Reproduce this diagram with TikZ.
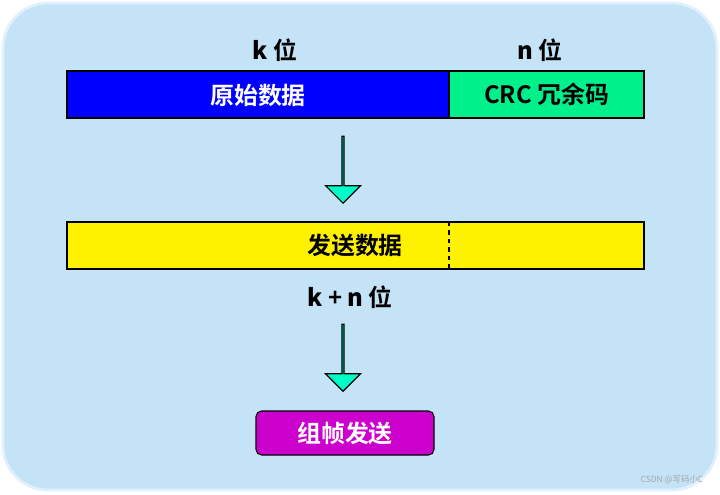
\documentclass[tikz,border=0pt]{standalone}
\usepackage{fontspec}
\setmainfont{Liberation Sans}
\newfontfamily\cjk{Noto Sans CJK SC}[BoldFont={Noto Sans CJK SC Bold}]
\usetikzlibrary{positioning,shapes.arrows}
\definecolor{bgblue}{RGB}{197,227,247}
\definecolor{bgedge}{RGB}{225,240,252}
\definecolor{crcgreen}{RGB}{0,240,140}
\definecolor{arrowfill}{RGB}{0,255,200}
\definecolor{framepurple}{RGB}{204,0,204}
\tikzset{
bar/.style={draw=black, thick, minimum height=47*0.025cm, inner sep=0pt, outer sep=0pt},
lbl/.style={font=\cjk\bfseries\fontsize{17}{20}\selectfont},
downarrow/.style={single arrow, draw=black, thick, fill=arrowfill, shape border rotate=270,
  minimum width=35*0.025cm, single arrow head extend=9*0.025cm, minimum height=67*0.025cm, inner sep=0pt}
}
\begin{document}
\begin{tikzpicture}[x=0.025cm,y=-0.025cm]
\useasboundingbox (0,0) rectangle (720,494);
\fill[bgblue, draw=bgedge, line width=2pt, rounded corners=45*0.025cm] (3,3) rectangle (717,490);
%Nodes
\node (data) [bar, fill=blue, minimum width=382*0.025cm, anchor=north west] at (67,71) {};
\node (crc) [bar, fill=crcgreen, minimum width=195*0.025cm, anchor=west] at (data.east) {};
\node [lbl, text=white] at (258,95) {原始数据};
\node [lbl] at (crc.center) {CRC 冗余码};
\node (k) [lbl] at (275,50) {\textit{k} 位};
\node (n) [lbl] at (540,50) {\textit{n} 位};
\node (a1) [downarrow, anchor=tip] at (343,204) {};
\node (send) [bar, fill=yellow, minimum width=577*0.025cm, anchor=north west] at (67,222) {};
\node [lbl] at (355,245) {发送数据};
\node (kn) [lbl] at (350,297) {\textit{k} + \textit{n} 位};
\node (a2) [downarrow, anchor=tip] at (343,392) {};
\node (frame) [draw=black, thick, fill=framepurple, rounded corners=4pt, minimum width=178*0.025cm,
  minimum height=44*0.025cm, lbl, text=white] at (345,433) {组帧发送};
\node [text=gray!70, font=\cjk\fontsize{6}{7}\selectfont] at (672,480) {CSDN @写码小C};
%Lines
\draw[thick, dashed] (crc.west |- send.north) -- (crc.west |- send.south);
\end{tikzpicture}
\end{document}
